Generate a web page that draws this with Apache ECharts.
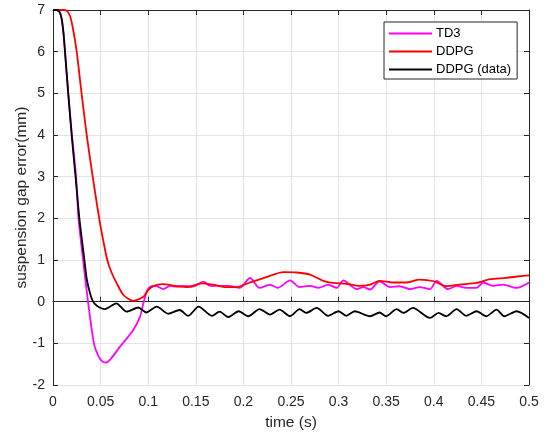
<!DOCTYPE html>
<html>
<head>
<meta charset="utf-8">
<script src="https://cdn.jsdelivr.net/npm/echarts@6/dist/echarts.min.js"></script>
<style>html,body{margin:0;padding:0;background:#fff;}#c{width:549px;height:437px;}</style>
</head>
<body>
<div id="c"></div>
<script>
var seriesNames = ['TD3', 'DDPG', 'DDPG (data)'];
var xTickLabels = ['0','0.05','0.1','0.15','0.2','0.25','0.3','0.35','0.4','0.45','0.5'];
var yTickLabels = ['-2','-1','0','1','2','3','4','5','6','7'];

var tTD3 = [0, 0.004, 0.007, 0.009, 0.011, 0.0126, 0.016, 0.0199, 0.0242, 0.0268, 0.0316, 0.0368, 0.0430, 0.0480, 0.052, 0.0557, 0.0704, 0.0843, 0.0914, 0.0949, 0.0984, 0.102, 0.108, 0.116, 0.123, 0.130, 0.137, 0.147, 0.158, 0.165, 0.172, 0.184, 0.196, 0.207, 0.217, 0.228, 0.236, 0.249, 0.259, 0.270, 0.279, 0.289, 0.298, 0.305, 0.319, 0.326, 0.333, 0.343, 0.354, 0.364, 0.375, 0.385, 0.396, 0.403, 0.415, 0.424, 0.434, 0.445, 0.452, 0.462, 0.473, 0.487, 0.5];
var vTD3 = [7, 7, 6.95, 6.8, 6.45, 6.0, 5.0, 4.0, 3.0, 2.0, 1.0, 0.0, -1.0, -1.32, -1.44, -1.46, -1.08, -0.68, -0.36, -0.04, 0.24, 0.36, 0.38, 0.30, 0.38, 0.36, 0.38, 0.36, 0.48, 0.38, 0.38, 0.38, 0.33, 0.57, 0.33, 0.41, 0.33, 0.51, 0.35, 0.38, 0.33, 0.41, 0.33, 0.51, 0.30, 0.35, 0.29, 0.49, 0.35, 0.37, 0.30, 0.35, 0.30, 0.50, 0.30, 0.38, 0.33, 0.33, 0.46, 0.38, 0.41, 0.33, 0.46];

var tDDPG = [0, 0.012, 0.015, 0.018, 0.021, 0.0249, 0.030, 0.0354, 0.0417, 0.0485, 0.0525, 0.057, 0.0615, 0.067, 0.074, 0.0844, 0.095, 0.100, 0.106, 0.115, 0.128, 0.142, 0.156, 0.168, 0.182, 0.193, 0.207, 0.224, 0.242, 0.256, 0.270, 0.284, 0.294, 0.308, 0.322, 0.333, 0.343, 0.357, 0.371, 0.385, 0.400, 0.413, 0.427, 0.445, 0.459, 0.476, 0.490, 0.5];
var vDDPG = [7, 7, 6.97, 6.85, 6.55, 6.0, 5.0, 4.0, 3.0, 2.0, 1.5, 1.0, 0.7, 0.44, 0.16, 0.02, 0.12, 0.28, 0.38, 0.42, 0.38, 0.35, 0.44, 0.41, 0.35, 0.35, 0.46, 0.59, 0.71, 0.70, 0.65, 0.50, 0.45, 0.43, 0.38, 0.41, 0.50, 0.46, 0.46, 0.53, 0.49, 0.37, 0.41, 0.45, 0.54, 0.57, 0.61, 0.63];

var tData = [0, 0.004, 0.007, 0.009, 0.011, 0.0126, 0.016, 0.0196, 0.0237, 0.0277, 0.033, 0.0354, 0.0389, 0.0417, 0.046, 0.0546, 0.0605, 0.0665, 0.0774, 0.0896, 0.098, 0.109, 0.121, 0.133, 0.142, 0.153, 0.167, 0.175, 0.184, 0.195, 0.205, 0.217, 0.228, 0.238, 0.249, 0.259, 0.266, 0.277, 0.289, 0.300, 0.308, 0.317, 0.333, 0.343, 0.350, 0.361, 0.368, 0.378, 0.396, 0.405, 0.413, 0.424, 0.434, 0.445, 0.455, 0.466, 0.474, 0.487, 0.5];
var vData = [7, 7, 6.95, 6.8, 6.45, 6.0, 5.0, 4.0, 3.0, 2.0, 1.0, 0.55, 0.2, 0.02, -0.1, -0.18, -0.11, -0.04, -0.24, -0.14, -0.26, -0.12, -0.29, -0.2, -0.34, -0.12, -0.34, -0.24, -0.37, -0.23, -0.35, -0.18, -0.31, -0.19, -0.35, -0.18, -0.27, -0.15, -0.34, -0.23, -0.34, -0.23, -0.35, -0.26, -0.35, -0.18, -0.27, -0.15, -0.39, -0.27, -0.35, -0.18, -0.34, -0.23, -0.35, -0.19, -0.35, -0.23, -0.39];

function pairs(t, v) { return t.map(function (x, i) { return [x, v[i]]; }); }

var FONT = '"Liberation Sans", Arial, sans-serif';
var AX = '#262626';

var chart = echarts.init(document.getElementById('c'), null, { renderer: 'canvas' });
function xLab(v) { var i = Math.round(v / 0.05); return xTickLabels[i] !== undefined ? xTickLabels[i] : ''; }
function yLab(v) { var i = Math.round(v + 2); return yTickLabels[i] !== undefined ? yTickLabels[i] : ''; }

var option = {
  backgroundColor: '#fff',
  animation: false,
  grid: { left: 53, top: 10, right: 20, bottom: 52, containLabel: false, outerBoundsMode: 'none' },
  legend: {
    orient: 'vertical', left: 384, top: 22,
    padding: [5, 6, 3, 5],
    borderColor: AX, borderWidth: 1, backgroundColor: '#fff',
    itemWidth: 43, itemHeight: 2, itemGap: 5,
    icon: 'rect',
    textStyle: { fontFamily: FONT, fontSize: 13, color: '#000', padding: [0, 0, 0, -1] },
    data: seriesNames
  },
  xAxis: [{
    type: 'value', min: 0, max: 0.5, interval: 0.05,
    name: 'time (s)', nameLocation: 'middle', nameGap: 30, nameMoveOverlap: false,
    nameTextStyle: { fontFamily: FONT, fontSize: 15.5, color: AX },
    axisLine: { lineStyle: { color: AX, width: 1 } },
    axisTick: { inside: true, length: 5, lineStyle: { color: AX } },
    axisLabel: { fontFamily: FONT, fontSize: 14, color: AX, margin: 10, formatter: xLab },
    splitLine: { show: true, lineStyle: { color: '#e3e3e3', width: 1 } }
  }, {
    type: 'value', min: 0, max: 0.5, interval: 0.05, position: 'top',
    axisLine: { show: true, onZero: false, lineStyle: { color: AX, width: 1 } },
    axisTick: { inside: true, length: 5, lineStyle: { color: AX } },
    axisLabel: { show: false }, splitLine: { show: false }
  }],
  yAxis: [{
    type: 'value', min: -2, max: 7, interval: 1,
    name: 'suspension gap error(mm)', nameLocation: 'middle', nameGap: 23, nameMoveOverlap: false,
    nameTextStyle: { fontFamily: FONT, fontSize: 15.5, color: AX },
    axisLine: { show: true, lineStyle: { color: AX, width: 1 } },
    axisTick: { show: true, inside: true, length: 5, lineStyle: { color: AX } },
    axisLabel: { fontFamily: FONT, fontSize: 14, color: AX, margin: 8, formatter: yLab },
    splitLine: { show: true, lineStyle: { color: '#e3e3e3', width: 1 } }
  }, {
    type: 'value', min: -2, max: 7, interval: 1, position: 'right',
    axisLine: { show: true, onZero: false, lineStyle: { color: AX, width: 1 } },
    axisTick: { show: true, inside: true, length: 5, lineStyle: { color: AX } },
    axisLabel: { show: false }, splitLine: { show: false }
  }],
  series: [
    { name: seriesNames[0], type: 'line', data: pairs(tTD3, vTD3), showSymbol: false, symbol: 'none', smooth: 0.25,
      lineStyle: { color: '#ff00ff', width: 1.8 }, itemStyle: { color: '#ff00ff' }, z: 3 },
    { name: seriesNames[1], type: 'line', data: pairs(tDDPG, vDDPG), showSymbol: false, symbol: 'none', smooth: 0.25,
      lineStyle: { color: '#ff0000', width: 1.8 }, itemStyle: { color: '#ff0000' }, z: 4 },
    { name: seriesNames[2], type: 'line', data: pairs(tData, vData), showSymbol: false, symbol: 'none', smooth: 0.25,
      lineStyle: { color: '#000000', width: 1.8 }, itemStyle: { color: '#000000' }, z: 5 }
  ]
};
chart.setOption(option);
</script>
</body>
</html>
